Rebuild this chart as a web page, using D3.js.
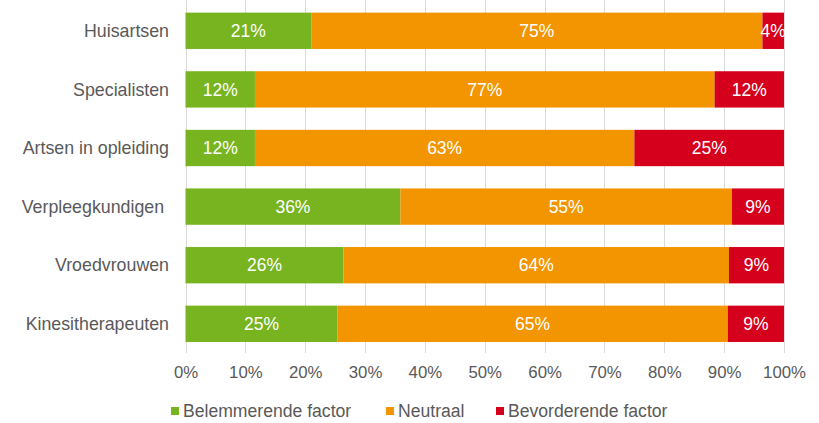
<!DOCTYPE html>
<html>
<head>
<meta charset="utf-8">
<style>
  body { margin: 0; background: #fff; }
  svg { display: block; font-family: 'Liberation Sans', Arial, sans-serif; }
  .cat text { font-size: 17.8px; fill: #595959; }
  .x .tick text { font-size: 16.8px; fill: #595959; }
  .x .domain, .x .tick line { display: none; }
  .grid line { stroke: #d9d9d9; stroke-width: 1; }
  .val { font-size: 17.5px; fill: #fff; }
  .legend text { font-size: 17.6px; fill: #595959; }
</style>
</head>
<body>
<svg width="819" height="423"></svg>
<script src="https://d3js.org/d3.v7.min.js"></script>
<script>
const categories = ["Huisartsen", "Specialisten", "Artsen in opleiding", "Verpleegkundigen ", "Vroedvrouwen", "Kinesitherapeuten"];
const seriesNames = ["Belemmerende factor", "Neutraal", "Bevorderende factor"];
const belemmerend = [0.210, 0.116, 0.116, 0.359, 0.264, 0.254];
const neutraal    = [0.754, 0.768, 0.634, 0.554, 0.644, 0.652];
const bevorderend = [0.036, 0.116, 0.250, 0.087, 0.092, 0.094];
const xTicks = [0, 0.1, 0.2, 0.3, 0.4, 0.5, 0.6, 0.7, 0.8, 0.9, 1];
const colors = ["#78b41f", "#f29500", "#d5001c"];

const svg = d3.select("svg");

const rows = categories.map((c, i) => ({
  cat: c,
  "Belemmerende factor": belemmerend[i],
  "Neutraal": neutraal[i],
  "Bevorderende factor": bevorderend[i]
}));

const x = d3.scaleLinear().domain([0, 1]).range([185.5, 784]);
const y = d3.scaleBand().domain(categories).range([1.5, 353.1]).paddingInner(0.38).paddingOuter(0.19);
const color = d3.scaleOrdinal().domain(seriesNames).range(colors);

// grid
svg.append("g").attr("class", "grid")
  .selectAll("line").data(xTicks).join("line")
  .attr("x1", d => Math.round(x(d)) + 0.5).attr("x2", d => Math.round(x(d)) + 0.5)
  .attr("y1", 0).attr("y2", 353);

const series = d3.stack().keys(seriesNames)(rows);

const layers = svg.append("g").selectAll("g").data(series).join("g")
  .attr("fill", d => color(d.key));

layers.selectAll("rect").data(d => d).join("rect")
  .attr("x", d => x(d[0]))
  .attr("y", d => y(d.data.cat))
  .attr("width", d => x(d[1]) - x(d[0]))
  .attr("height", y.bandwidth());

const fmt = d3.format(".0%");
layers.selectAll("text").data(d => d).join("text")
  .attr("class", "val")
  .attr("x", d => (x(d[0]) + x(d[1])) / 2)
  .attr("y", d => y(d.data.cat) + y.bandwidth() / 2)
  .attr("dy", "0.35em")
  .attr("text-anchor", "middle")
  .text(d => fmt(d[1] - d[0]));

// category axis
svg.append("g").attr("class", "cat")
  .selectAll("text").data(categories).join("text")
  .attr("x", 169)
  .attr("y", d => y(d) + y.bandwidth() / 2)
  .attr("dy", "0.35em")
  .attr("text-anchor", "end")
  .style("white-space", "pre")
  .text(d => d);

// x axis
svg.append("g").attr("class", "x")
  .attr("transform", "translate(0,364)")
  .call(d3.axisBottom(x).tickValues(xTicks).tickFormat(d3.format(".0%")).tickSize(0).tickPadding(2));

// legend
const legendX = [171, 386, 496];
const legend = svg.append("g").attr("class", "legend")
  .selectAll("g").data(seriesNames).join("g")
  .attr("transform", (d, i) => `translate(${legendX[i]},411)`);
legend.append("rect").attr("x", 0).attr("y", -4).attr("width", 8).attr("height", 8)
  .attr("fill", d => color(d));
legend.append("text").attr("x", 12).attr("dy", "0.35em").text(d => d);
</script>
</body>
</html>
